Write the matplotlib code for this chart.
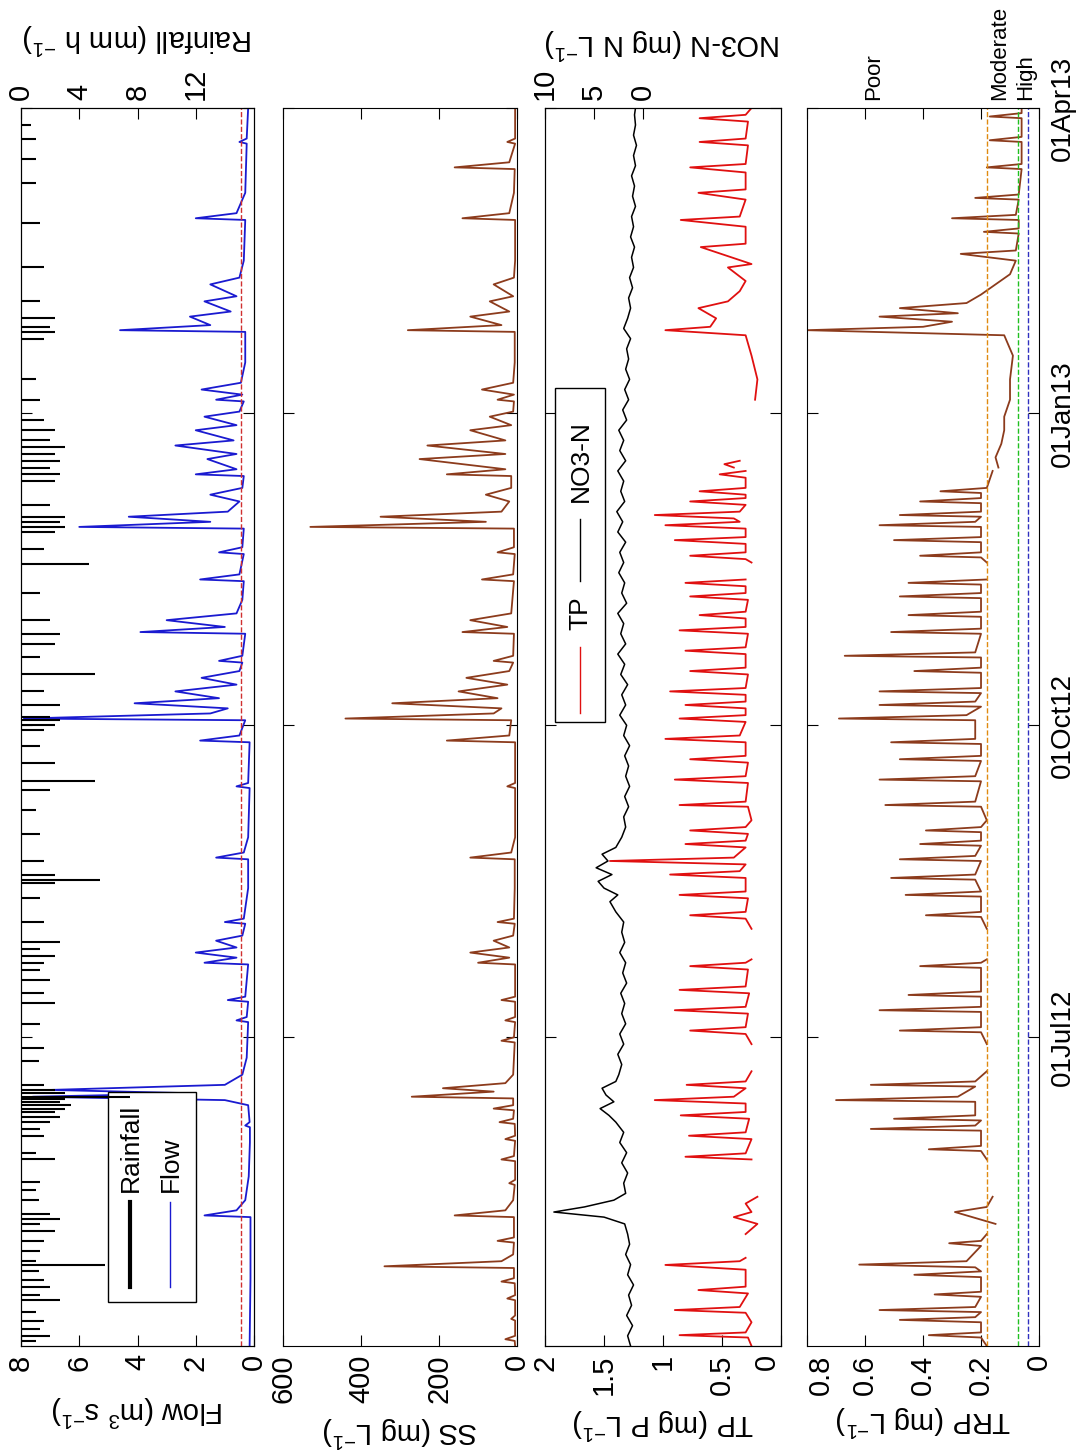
import numpy as np
import matplotlib.pyplot as plt
from matplotlib.patches import Rectangle
from matplotlib.lines import Line2D

plt.rcParams['font.family'] = ['Liberation Sans', 'DejaVu Sans']
plt.rcParams['mathtext.default'] = 'regular'
plt.rcParams['font.size'] = 21

nan = np.nan

# time in days since 01Apr12
date_pos = [91, 183, 275, 365]
date_lab = ['01Jul12', '01Oct12', '01Jan13', '01Apr13']

flow_day = [0, 20, 38, 38.5, 40, 43, 50, 60, 64.5, 65, 66, 71, 72.5, 73.5, 74.5, 75.5, 77, 80,
            85, 95.5, 96, 97, 101.5, 102, 103, 112.5, 113, 114.5, 116, 117.5, 119.5, 121, 124.5,
            125, 126, 135, 143.5, 144, 145.5, 150, 164.5, 165, 166, 178, 178.5, 180, 184.5, 185,
            186.5, 188, 189.5, 191, 193, 195, 197, 199, 201.5, 202, 203.5, 210, 210.5, 212, 214,
            216, 220, 225.5, 226, 227.5, 233.5, 234, 235.5, 241, 241.5, 243, 244.5, 246, 249,
            251, 253, 256.5, 257, 258.5, 261.5, 263, 265.5, 267, 270, 271.5, 274, 275.5, 278.5,
            279, 280.5, 282, 284, 290, 299, 299.5, 301, 303.5, 305, 308, 309.5, 313, 315, 320,
            332, 332.5, 334, 340, 354.5, 355, 356, 365]
flow_val = [0.15, 0.12, 0.12, 1.7, 0.6, 0.3, 0.18, 0.14, 0.14, 0.3, 0.15, 0.2, 1.0, 7.6, 2.0,
            7.0, 1.0, 0.4, 0.25, 0.2, 0.6, 0.25, 0.2, 0.9, 0.3, 0.2, 1.7, 0.6, 2.0, 0.6, 1.3, 0.4,
            0.3, 1.0, 0.35, 0.2, 0.2, 1.3, 0.35, 0.2, 0.15, 0.6, 0.2, 0.15, 1.85, 0.5, 0.3, 7.9,
            1.5, 0.9, 4.1, 1.2, 2.7, 0.6, 1.8, 0.5, 0.4, 1.2, 0.4, 0.3, 3.9, 1.0, 3.0, 0.6, 0.4,
            0.35, 1.85, 0.5, 0.35, 1.2, 0.4, 0.35, 6.0, 1.5, 4.3, 0.9, 0.5, 1.5, 0.4, 0.35, 2.0,
            0.6, 1.6, 0.6, 2.7, 0.7, 2.0, 0.6, 1.7, 0.5, 0.35, 1.3, 0.4, 1.8, 0.45, 0.3, 0.3,
            4.6, 1.5, 2.2, 0.8, 1.7, 0.6, 1.5, 0.5, 0.35, 0.3, 2.0, 0.6, 0.3, 0.25, 0.5, 0.25,
            0.2]

rain_day = [1.5, 3, 5, 7.5, 10, 13.5, 15, 17.5, 19.5, 22, 23.9, 25, 28, 31, 34, 36, 37.5, 39, 43,
            46, 48.5, 55, 57, 62, 64, 66, 67.5, 69, 70, 71, 72, 72.8, 73.5, 74.5, 75.5, 77, 84, 88,
            95, 101, 104, 108, 111, 113, 115, 117, 119, 125, 132, 136.5, 137.5, 139, 143, 151,
            158, 164, 166.5, 172, 177, 181.5, 183, 184.5, 185.5, 189, 193, 198, 203, 207, 210,
            214, 222, 230.5, 235, 240, 241.5, 243, 244.5, 248, 255, 257, 259, 261, 263, 265, 267,
            270, 273, 279, 285, 297, 299, 300.5, 303, 308, 318, 331, 343, 350, 356, 360]
rain_val = [1.0, 2.0, 1.3, 1.6, 1.0, 2.7, 1.3, 2.0, 1.6, 1.2, 5.8, 1.0, 1.3, 1.6, 2.3, 1.3, 2.7,
            2.0, 1.2, 1.0, 1.3, 2.3, 1.0, 1.6, 1.3, 2.0, 2.7, 2.3, 3.0, 3.4, 2.7, 3.0, 7.5, 3.0,
            2.3, 1.6, 1.2, 1.6, 1.3, 2.3, 1.6, 2.0, 1.3, 1.6, 2.3, 1.3, 2.7, 1.6, 1.3, 2.3, 5.4,
            2.3, 1.6, 1.3, 1.0, 2.0, 5.1, 2.3, 1.3, 1.6, 2.3, 2.7, 2.0, 2.7, 1.6, 5.1, 1.3, 2.3,
            2.7, 2.0, 1.3, 4.7, 1.6, 2.3, 3.0, 2.7, 3.0, 2.0, 2.3, 2.7, 2.0, 2.7, 2.3, 3.0, 2.0,
            2.3, 1.6, 1.3, 1.0, 1.6, 2.3, 2.0, 2.3, 1.3, 1.6, 1.3, 1.0, 1.0, 1.0, 0.7]

ss_day = [0, 1.5, 2, 3, 7.5, 8, 9, 13.5, 14, 15, 18.5, 19, 20, 23, 23.5, 25, 27, 30.5, 31, 32,
          38, 38.5, 40, 43, 47.5, 48, 49, 54.5, 55, 56, 60.5, 61, 62, 65.5, 66, 67, 69.5, 70, 71,
          73, 73.5, 75, 76, 77.5, 80, 89.5, 90, 91, 95.5, 96, 97, 101.5, 102, 103, 112.5, 113,
          114.5, 116, 117.5, 119.5, 121, 124.5, 125, 126, 135, 143.5, 144, 145.5, 150, 164.5,
          165, 166, 178, 178.5, 180, 184.5, 185, 186.5, 188, 189.5, 191, 193, 195, 197, 199,
          201.5, 202, 203.5, 210, 210.5, 212, 214, 216, 225.5, 226, 227.5, 233.5, 234, 235.5,
          241, 241.5, 243, 244.5, 246, 249, 251, 253, 256.5, 257, 258.5, 261.5, 263, 265.5, 267,
          270, 271.5, 274, 275.5, 278.5, 279, 280.5, 282, 284, 290, 299, 299.5, 301, 303.5, 305,
          308, 309.5, 313, 315, 320, 332, 332.5, 334, 340, 347, 347.5, 349, 354.5, 355, 356, 365]
ss_val = [5, 6, 30, 5, 5, 15, 5, 5, 25, 5, 6, 40, 8, 8, 340, 40, 10, 8, 50, 8, 8, 160, 30, 10, 6,
          20, 5, 5, 40, 8, 5, 30, 5, 6, 45, 10, 8, 60, 10, 10, 270, 60, 190, 30, 10, 6, 40, 8, 5,
          30, 5, 5, 40, 5, 5, 100, 20, 120, 20, 60, 10, 6, 50, 8, 6, 6, 120, 15, 5, 5, 25, 5, 5,
          180, 20, 15, 440, 60, 40, 320, 50, 150, 25, 130, 20, 10, 60, 10, 8, 140, 25, 120, 15, 8,
          90, 10, 6, 50, 8, 8, 530, 80, 350, 40, 20, 80, 15, 15, 180, 30, 250, 30, 230, 30, 120,
          15, 70, 10, 8, 50, 8, 90, 10, 6, 6, 280, 40, 120, 20, 70, 10, 60, 8, 5, 5, 140, 20, 8,
          6, 160, 20, 5, 25, 5, 5]

tp_day = [0, 2.5, 3.2, 4, 7, 9.8, 10.6, 11.5, 15.5, 16.5, 17.5, 22.5, 23.9, 25, 26, 26.5,
          33, 36, 38, 39.5, 42, 44, 44.5,
          55, 55.8, 56.8, 61, 62, 63, 67, 68, 69, 71.5, 72.5, 73.5, 76, 77, 78, 81, 81.5,
          89, 92, 93, 94, 98, 99, 100, 104, 105, 106, 111, 112, 113, 114, 114.5,
          123, 126, 127, 128, 132, 133, 134, 138, 139, 140, 142, 143, 144, 147, 148, 149, 151,
          152, 153, 155, 159, 159.5, 160.5, 166, 167, 168, 172, 173, 174, 178, 179, 180, 184,
          185, 186, 188, 189, 190, 192, 193, 194, 198, 199, 200, 204, 205, 206, 210, 211, 212,
          214.5, 215.5, 216.5, 220, 221, 222, 224, 225, 226, 226.5,
          231, 232, 233, 234, 236.5, 237.6, 238.5, 241, 242, 243, 244, 245, 246, 248, 249, 250,
          251, 252, 253, 256, 257, 258, 258.5,
          259, 260, 261, 261.5,
          279, 285, 292, 298, 299.5, 300.5, 303, 306, 308, 311, 314, 318, 319, 324, 325, 330,
          332, 333, 338, 340, 341, 346, 347.5, 348.5, 354, 355, 356, 361, 362, 363, 365]
tp_val = [0.25, 0.28, 0.86, 0.3, 0.25, 0.3, 0.9, 0.35, 0.28, 0.7, 0.3, 0.3, 0.98, 0.35, 0.3, nan,
          0.3, 0.2, 0.4, 0.25, 0.3, 0.2, nan,
          0.25, 0.81, 0.3, 0.25, 0.78, 0.3, 0.27, 0.85, 0.3, 0.3, 1.07, 0.4, 0.3, 0.8, 0.3, 0.25,
          nan,
          0.25, 0.3, 0.77, 0.3, 0.28, 0.9, 0.3, 0.27, 0.86, 0.3, 0.28, 0.77, 0.3, 0.25, nan,
          0.25, 0.3, 0.77, 0.3, 0.28, 0.86, 0.3, 0.3, 0.94, 0.35, 0.3, 1.45, 0.4, 0.3, 0.81, 0.3,
          0.28, 0.77, 0.3, 0.25, 0.28, 0.86, 0.3, 0.28, 0.9, 0.3, 0.28, 0.77, 0.3, 0.3, 0.98,
          0.35, 0.3, 0.86, 0.3, 0.3, 0.81, 0.3, 0.3, 0.94, 0.3, 0.28, 0.77, 0.3, 0.3, 0.81, 0.3,
          0.28, 0.86, 0.3, 0.3, 0.69, 0.3, 0.28, 0.77, 0.3, 0.3, 0.81, 0.3, nan,
          0.25, 0.3, 0.77, 0.3, 0.3, 0.9, 0.3, 0.3, 0.98, 0.35, 0.4, 1.07, 0.35, 0.3, 0.77, 0.3,
          0.3, 0.69, 0.3, 0.3, 0.52, 0.3, nan,
          0.4, 0.48, 0.35, nan,
          0.22, 0.2, 0.25, 0.3, 0.98, 0.6, 0.55, 0.7, 0.45, 0.35, 0.3, 0.45, 0.25, 0.68, 0.3,
          0.3, 0.85, 0.35, 0.3, 0.7, 0.3, 0.3, 0.77, 0.3, 0.28, 0.69, 0.3, 0.28, 0.69, 0.3, 0.25]

no3_day = [0, 3, 6, 9, 12, 15, 18, 21, 24, 27, 30, 33, 36, 38, 39.5, 41, 43, 45, 48, 51, 54, 57,
           60, 63, 66, 68, 70, 72, 74, 76, 78, 80, 83, 86, 89, 92, 95, 98, 101, 104, 107, 110,
           113, 116, 119, 122, 125, 128, 131, 133, 135, 137, 139, 141, 143, 145, 147, 150, 153,
           156, 159, 162, 165, 168, 171, 174, 177, 180, 183, 186, 189, 192, 195, 198, 201, 204,
           207, 210, 213, 216, 219, 222, 225, 228, 231, 234, 237, 240, 243, 246, 249, 252, 255,
           258, 261, 264, 267, 270, 273, 276, 279, 282, 285, 288, 291, 294, 297, 300, 303, 306,
           309, 312, 315, 318, 321, 324, 327, 330, 333, 336, 339, 342, 345, 348, 351, 354, 357,
           360, 363, 365]
no3_val = [1.3, 1.6, 1.1, 1.7, 1.2, 1.5, 1.0, 1.6, 1.3, 1.8, 1.4, 1.6, 1.9, 4.0, 9.1, 6.0, 3.0,
           1.8, 2.0, 1.6, 2.2, 1.7, 2.4, 2.0, 2.8, 3.5, 4.4, 3.0, 3.8, 4.2, 2.8, 2.5, 2.2, 2.6,
           2.0, 2.4, 1.8, 2.2, 1.9, 2.3, 1.7, 2.1, 1.8, 2.4, 1.9, 2.2, 2.0, 2.8, 3.4, 2.6, 4.0,
           4.6, 3.2, 4.8, 3.6, 4.2, 2.8, 2.2, 1.8, 2.0, 1.5, 1.9, 1.4, 1.8, 1.5, 1.9, 1.4, 2.0,
           1.7, 2.4, 1.8, 2.2, 1.6, 2.3, 1.9, 2.6, 1.8, 2.3, 2.0, 2.6, 1.7, 2.2, 1.9, 2.5, 2.0,
           2.4, 1.8, 2.6, 2.1, 2.7, 1.9, 2.3, 2.0, 2.6, 1.8, 2.4, 2.0, 2.5, 1.7, 2.1, 1.5, 1.9,
           1.4, 1.8, 1.5, 1.7, 1.3, 2.0, 1.6, 1.3, 1.5, 1.1, 1.4, 1.0, 1.2, 0.9, 1.3, 1.0, 1.2,
           0.8, 1.1, 0.9, 1.2, 0.8, 1.0, 0.7, 1.0, 0.8, 0.9, 0.8]

trp_day = [0, 2.5, 3.2, 4, 7, 7.7, 8.5, 10, 10.6, 11.5, 14.5, 15.2, 16, 20.3, 21, 22, 23.2, 24,
           25, 29.5, 30.3, 31, 33, 33.5,
           36, 39.5, 41, 44, 44.5,
           55, 57.5, 58, 59, 63.5, 64, 65, 66.5, 67, 68, 72, 72.5, 73.5, 76.5, 77, 78, 81, 81.5,
           89, 92.5, 93, 94, 98.5, 99, 100, 103, 103.5, 104.5, 111.5, 112, 113, 114, 114.5,
           123, 126.5, 127, 128, 132.5, 133, 134, 137.5, 138, 139, 143, 143.5, 144.5, 147.5,
           148, 149, 151.5, 152, 153, 155, 159, 159.5, 160.5, 166.5, 167, 168, 172.5, 173, 174,
           177.5, 178, 179, 184.5, 185, 186, 188.5, 189, 190, 192.5, 193, 194, 198.5, 199, 200,
           203, 203.5, 204.5, 210, 210.5, 211.5, 215, 215.5, 216.5, 220.5, 221, 222, 224.5, 225,
           226, 226.5,
           231, 232.5, 233, 234, 237, 237.6, 238.5, 241.5, 242, 243, 244.5, 245, 246, 248.5, 249,
           250, 251.5, 252, 253, 258, 258.5,
           259, 262, 266, 270, 274, 279, 285, 292, 298, 299.5, 300.5, 302, 303.5, 304.5, 306,
           307.5, 310, 313, 316, 320, 322, 323, 328, 328.5, 329.5, 332, 332.5, 333.5, 338,
           338.5, 339.5, 347, 347.5, 348.5, 355, 355.5, 356.5, 362, 362.5, 363.5, 365]
trp_val = [0.18, 0.2, 0.38, 0.2, 0.2, 0.48, 0.22, 0.2, 0.55, 0.22, 0.2, 0.36, 0.2, 0.2, 0.43, 0.2,
           0.22, 0.62, 0.25, 0.2, 0.31, 0.2, 0.18, nan,
           0.15, 0.29, 0.18, 0.16, nan,
           0.18, 0.2, 0.38, 0.2, 0.2, 0.58, 0.22, 0.2, 0.5, 0.22, 0.22, 0.7, 0.28, 0.22, 0.58,
           0.22, 0.18, nan,
           0.18, 0.2, 0.48, 0.2, 0.2, 0.55, 0.2, 0.2, 0.45, 0.2, 0.2, 0.41, 0.2, 0.18, nan,
           0.18, 0.2, 0.39, 0.2, 0.2, 0.46, 0.2, 0.22, 0.51, 0.22, 0.2, 0.48, 0.22, 0.2, 0.41,
           0.2, 0.2, 0.39, 0.2, 0.18, 0.2, 0.53, 0.22, 0.2, 0.55, 0.22, 0.2, 0.48, 0.2, 0.2, 0.51,
           0.22, 0.22, 0.69, 0.25, 0.2, 0.55, 0.22, 0.2, 0.55, 0.2, 0.2, 0.43, 0.2, 0.2, 0.67,
           0.22, 0.2, 0.51, 0.2, 0.2, 0.45, 0.2, 0.2, 0.48, 0.2, 0.2, 0.45, 0.18, nan,
           0.18, 0.2, 0.41, 0.2, 0.2, 0.5, 0.2, 0.2, 0.55, 0.22, 0.2, 0.48, 0.2, 0.2, 0.41, 0.2,
           0.2, 0.34, 0.18, 0.16, nan,
           0.14, 0.15, 0.13, 0.12, 0.12, 0.1, 0.1, 0.09, 0.12, 0.8, 0.4, 0.3, 0.55, 0.28, 0.48,
           0.25, 0.2, 0.15, 0.1, 0.08, 0.27, 0.08, 0.07, 0.19, 0.07, 0.07, 0.3, 0.08, 0.07, 0.22,
           0.07, 0.06, 0.18, 0.06, 0.06, 0.17, 0.06, 0.06, 0.17, 0.06, 0.06]

brown = '#8c3b1c'
blue = '#1a1ad0'

fig = plt.figure(figsize=(10.84, 14.52), dpi=100)
bot, hgt = 0.073, 0.8526
ax1 = fig.add_axes([0.0194, bot, 0.2149, hgt])
ax2 = fig.add_axes([0.2611, bot, 0.2159, hgt])
ax3 = fig.add_axes([0.5028, bot, 0.2177, hgt])
ax4 = fig.add_axes([0.7445, bot, 0.2140, hgt])

for ax in (ax1, ax2, ax3, ax4):
    ax.set_ylim(0, 365)
    ax.set_yticks(date_pos)
    ax.tick_params(axis='y', direction='in', length=8, left=True, right=True,
                   labelleft=False, labelright=False)
    ax.tick_params(axis='x', direction='in', length=8, labelrotation=90, pad=6,
                   labelsize=21, top=(ax in (ax2, ax4)))

# flow and rainfall
ax1.set_xlim(8, 0)
ax1.set_xticks([0, 2, 4, 6, 8])
ax1.plot(flow_val, flow_day, color=blue, lw=1.3)
ax1.axvline(0.45, color='#d03030', ls='--', lw=1)
ax1.set_xlabel('Flow (m$^3$ s$^{-1}$)', rotation=180, labelpad=16)
ax1r = ax1.twiny()
ax1r.set_xlim(0, 16)
ax1r.set_xticks([0, 4, 8, 12])
ax1r.hlines(rain_day, 0, rain_val, color='k', lw=1.5)
ax1r.tick_params(axis='x', direction='in', length=8, labelrotation=90, pad=6, labelsize=21)
ax1r.set_xlabel('Rainfall (mm h $^{-1}$)', rotation=180, labelpad=14)

# legend for the flow panel
ax1.add_patch(Rectangle((0.373, 0.0355), 0.378, 0.17, transform=ax1.transAxes,
                        facecolor='white', edgecolor='k', lw=1, zorder=5))
ax1.add_line(Line2D([0.468, 0.468], [0.0477, 0.116], transform=ax1.transAxes,
                    color='k', lw=3, zorder=6))
ax1.add_line(Line2D([0.639, 0.639], [0.0477, 0.116], transform=ax1.transAxes,
                    color=blue, lw=1, zorder=6))
ax1.text(0.47, 0.124, 'Rainfall', transform=ax1.transAxes, rotation=90,
         ha='center', va='bottom', fontsize=19, zorder=7)
ax1.text(0.645, 0.124, 'Flow', transform=ax1.transAxes, rotation=90,
         ha='center', va='bottom', fontsize=19, zorder=7)

# suspended solids
ax2.set_xlim(600, 0)
ax2.set_xticks([0, 200, 400, 600])
ax2.plot(ss_val, ss_day, color=brown, lw=1.3)
ax2.set_xlabel('SS (mg L$^{-1}$)', rotation=180, labelpad=8)

# TP and nitrate
ax3.set_xlim(2, 0)
ax3.set_xticks([0, 0.5, 1, 1.5, 2])
ax3.set_xticklabels(['0', '0.5', '1', '1.5', '2'])
ax3.get_xticklabels()[0].set_ha('right')
ax3.plot(tp_val, tp_day, color='#e01010', lw=1.3)
ax3.set_xlabel('TP (mg P L$^{-1}$)', rotation=180, labelpad=8)
ax3n = ax3.twiny()
ax3n.set_xlim(10, -14)
ax3n.set_xticks([0, 5, 10])
ax3n.plot(no3_val, no3_day, color='k', lw=1.1)
ax3n.tick_params(axis='x', direction='in', length=8, labelrotation=90, pad=6, labelsize=21)
ax3n.set_xlabel('NO3-N (mg N L$^{-1}$)', rotation=180, labelpad=10)

ax3.add_patch(Rectangle((0.042, 0.504), 0.212, 0.27, transform=ax3.transAxes,
                        facecolor='white', edgecolor='k', lw=1, zorder=5))
ax3.add_line(Line2D([0.148, 0.148], [0.511, 0.565], transform=ax3.transAxes,
                    color='#e01010', lw=1, zorder=6))
ax3.add_line(Line2D([0.148, 0.148], [0.618, 0.668], transform=ax3.transAxes,
                    color='k', lw=1, zorder=6))
ax3.text(0.15, 0.578, 'TP', transform=ax3.transAxes, rotation=90,
         ha='center', va='bottom', fontsize=19, zorder=7)
ax3.text(0.15, 0.682, 'NO3-N', transform=ax3.transAxes, rotation=90,
         ha='center', va='bottom', fontsize=19, zorder=7)

# TRP
ax4.set_xlim(0.8, 0)
ax4.set_xticks([0, 0.2, 0.4, 0.6, 0.8])
ax4.set_xticklabels(['0', '0.2', '0.4', '0.6', '0.8'])
ax4.get_xticklabels()[-1].set_ha('left')
ax4.plot(trp_val, trp_day, color=brown, lw=1.3)
ax4.axvline(0.18, color='#e08a10', ls='--', lw=1)
ax4.axvline(0.072, color='#20c020', ls='--', lw=1)
ax4.axvline(0.038, color='#3030c0', ls='--', lw=1)
ax4.set_xlabel('TRP (mg L$^{-1}$)', rotation=180, labelpad=6)
ax4.tick_params(axis='y', labelright=True, labelrotation=90, labelsize=20, pad=8)
ax4.set_yticklabels(date_lab)
for lbl in ax4.get_yticklabels():
    lbl.set_va('center')
for txt, xv in (('Poor', 0.57), ('Moderate', 0.135), ('High', 0.045)):
    ax4.text(xv, 367.5, txt, rotation=90, ha='center', va='bottom', fontsize=16,
             clip_on=False)

fig.savefig('out.png', dpi=100)
